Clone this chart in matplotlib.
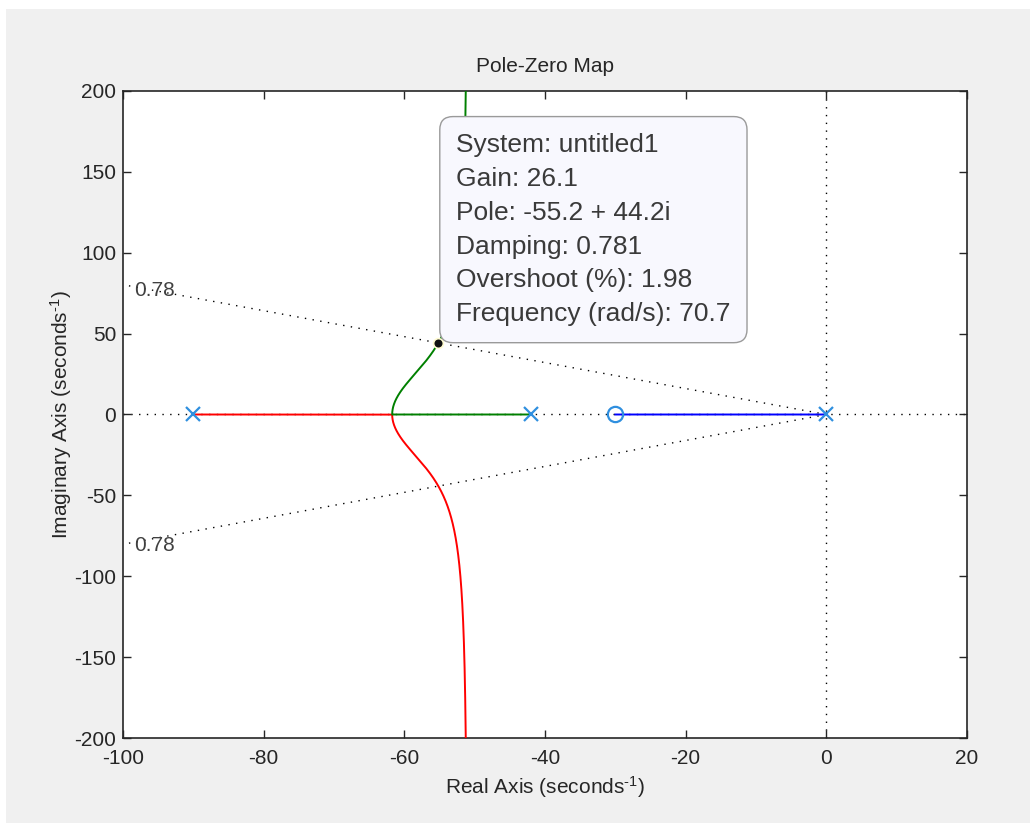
import numpy as np
import matplotlib
matplotlib.use("Agg")
import matplotlib.pyplot as plt
from matplotlib.patches import Rectangle

plt.rcParams['font.family'] = ['Liberation Sans', 'DejaVu Sans']
plt.rcParams['axes.unicode_minus'] = False
plt.rcParams['mathtext.default'] = 'regular'

# Open-loop system: poles and zero (real axis, seconds^-1)
open_loop_poles = [0.0, -42.0, -90.0]
open_loop_zeros = [-30.0]

# Damping grid line
damping_values = [0.78]

# Selected closed-loop pole (data tip)
tip_system = "untitled1"
tip_gain = 26.1
tip_pole_re = -55.2
tip_pole_im = 44.2
tip_damping = 0.781
tip_overshoot = 1.98
tip_frequency = 70.7

x_ticks = [-100, -80, -60, -40, -20, 0, 20]
y_ticks = [-200, -150, -100, -50, 0, 50, 100, 150, 200]

# ---- root locus of 1 + K * Z(s)/P(s) ----
P = np.poly(open_loop_poles)
Z = np.poly(open_loop_zeros)

# breakaway point between the two left-most poles
dP, dZ = np.polyder(P), np.polyder(Z)
crit = np.roots(np.polysub(np.polymul(dP, Z), np.polymul(P, dZ)))
crit = crit[np.abs(crit.imag) < 1e-9].real
crit = crit[(crit < open_loop_poles[1]) & (crit > open_loop_poles[2])][0]
K_b = -np.polyval(P, crit) / np.polyval(Z, crit)

gains = np.unique(np.concatenate([
    np.linspace(0, K_b, 600),
    K_b + np.geomspace(1e-4, 1e7, 3000),
]))

blue, green, red = [], [], []
for K in gains:
    r = np.roots(np.polyadd(P, K * Z))
    # branch running from the origin pole to the zero
    on_seg = (np.abs(r.imag) < 1e-9) & (r.real >= open_loop_zeros[0] - 1e-6)
    idx_b = np.where(on_seg)[0][np.argmax(r.real[on_seg])]
    rb = r[idx_b]
    rest = np.delete(r, idx_b)
    if K <= K_b:
        rest = np.sort(rest.real)
        red.append(complex(rest[0], 0.0))
        green.append(complex(rest[1], 0.0))
    else:
        rest = rest[np.argsort(rest.imag)]
        red.append(rest[0])
        green.append(rest[1])
    blue.append(rb)

blue, green, red = map(np.array, (blue, green, red))

fig = plt.figure(figsize=(10.30, 8.23), dpi=100, facecolor='white')
fig.patches.append(Rectangle((6 / 1030, 0), 1 - 6 / 1030, 1 - 9 / 823,
                             transform=fig.transFigure, facecolor='#f0f0f0',
                             edgecolor='none', zorder=-10))

ax = fig.add_axes([123 / 1030, 1 - 738 / 823, (967 - 123) / 1030, (738 - 91) / 823])
ax.set_facecolor('white')

dot = dict(color='black', lw=1.0, linestyle=(0, (1, 4.6)), zorder=1)
ax.axhline(0, **dot)
ax.axvline(0, **dot)
for z in damping_values:
    slope = np.tan(np.arccos(z))
    xe = x_ticks[0]
    ax.plot([0, xe], [0, -slope * xe], **dot)
    ax.plot([0, xe], [0, slope * xe], **dot)
    ax.text(xe + 1.6, -slope * xe - 3.5, f"{z:.2f}", fontsize=15, color='#404040',
            ha='left', va='center', zorder=2)
    ax.text(xe + 1.6, slope * xe - 0.5, f"{z:.2f}", fontsize=15, color='#404040',
            ha='left', va='center', zorder=2)

ax.plot(red.real, red.imag, color='#ff0000', lw=1.4, zorder=3)
ax.plot(green.real, green.imag, color='#008000', lw=1.4, zorder=3)
ax.plot(blue.real, blue.imag, color='#0000ff', lw=1.4, zorder=3)

mcol = '#2f8fdf'
ax.plot(open_loop_poles, np.zeros(len(open_loop_poles)), 'x', color=mcol, ms=10, mew=1.6, zorder=4)
ax.plot(open_loop_zeros, np.zeros(len(open_loop_zeros)), 'o', mfc='none', mec=mcol, ms=11, mew=1.6, zorder=4)

# data tip
ax.plot([tip_pole_re], [tip_pole_im], 'o', color='#111111', mec='#fffbd0', ms=7, mew=1.2, zorder=6)
tip_text = (f"System: {tip_system}\n"
            f"Gain: {tip_gain}\n"
            f"Pole: {tip_pole_re} + {tip_pole_im}i\n"
            f"Damping: {tip_damping}\n"
            f"Overshoot (%): {tip_overshoot}\n"
            f"Frequency (rad/s): {tip_frequency}")
ax.annotate(tip_text, xy=(tip_pole_re, tip_pole_im), xytext=(13, 12),
            textcoords='offset points', ha='left', va='bottom', fontsize=19,
            color='#3a3a3a', linespacing=1.52, zorder=7,
            bbox=dict(boxstyle='round,pad=0.62,rounding_size=0.5',
                      facecolor='#f8f8fe', edgecolor='#9a9a9a', lw=1.0))

ax.set_xlim(x_ticks[0], x_ticks[-1])
ax.set_ylim(y_ticks[0], y_ticks[-1])
ax.set_xticks(x_ticks)
ax.set_yticks(y_ticks)
ax.tick_params(direction='in', length=6, width=1.0, top=True, right=True,
               labelsize=15, colors='#262626', pad=5)
ax.tick_params(axis='x', pad=8)
for s in ax.spines.values():
    s.set_linewidth(1.2)
    s.set_color('#262626')

ax.set_title("Pole-Zero Map", fontsize=15, color='#262626', pad=14)
ax.set_xlabel("Real Axis (seconds$^{\u2010 1}$)", fontsize=15, color='#262626', labelpad=4)
ax.set_ylabel("Imaginary Axis (seconds$^{\u2010 1}$)", fontsize=15, color='#262626', labelpad=0)

fig.savefig("out.png", dpi=100, facecolor=fig.get_facecolor())
